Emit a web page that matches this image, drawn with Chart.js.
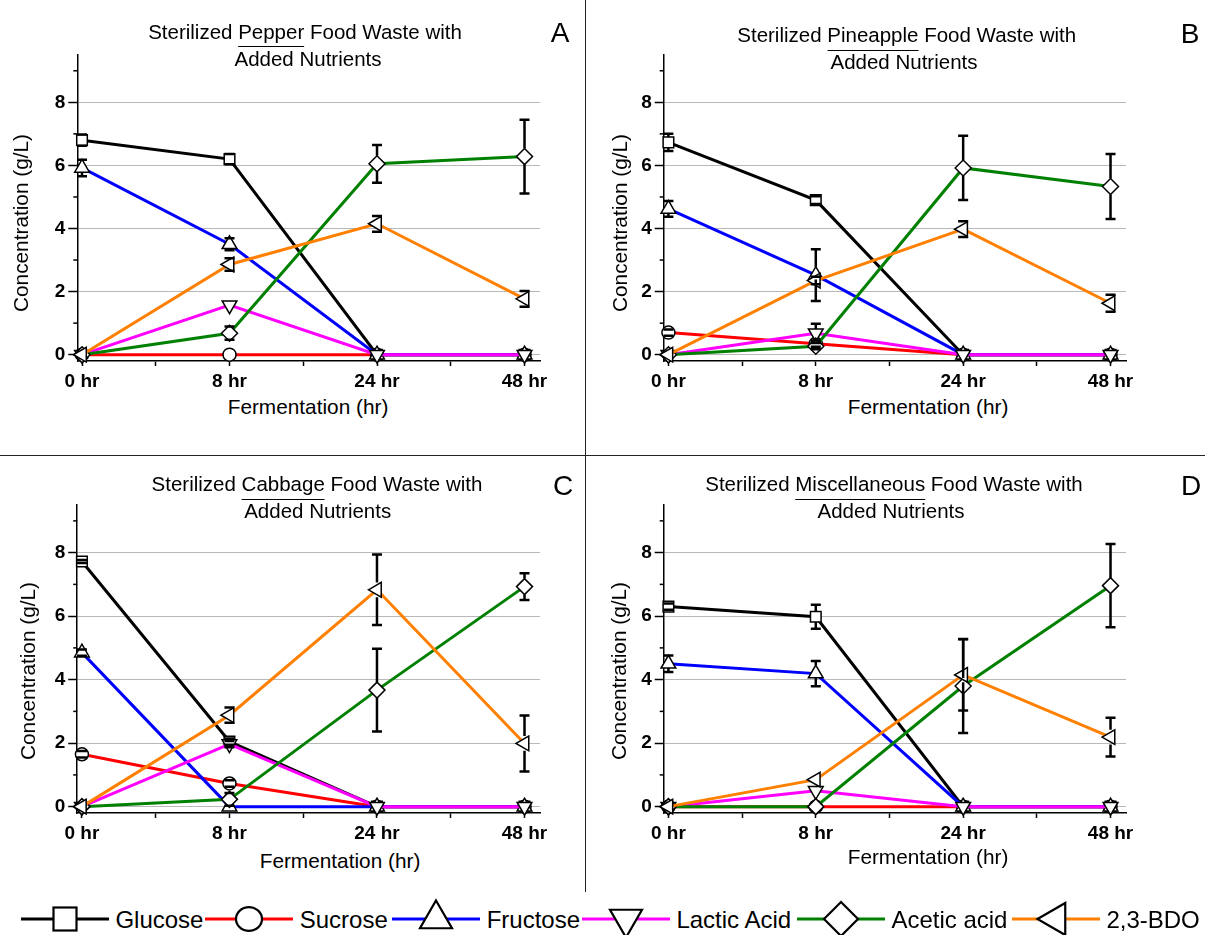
<!DOCTYPE html>
<html lang="en">
<head>
<meta charset="utf-8">
<title>Sterilized Food Waste Fermentation</title>
<script src="https://cdn.jsdelivr.net/npm/chart.js@4.4.1/dist/chart.umd.min.js"></script>
<style>
  html, body { margin:0; padding:0; background:#fff; }
  body { position:relative; width:1205px; height:935px; overflow:hidden; font-family:'Liberation Sans', Arial, sans-serif; color:#000; }
  canvas { position:absolute; }
  .txt { position:absolute; white-space:nowrap; transform:translate(-50%,-50%); }
  .ttl { font-size:20.5px; line-height:20px; }
  .ttl u { text-decoration:none; border-bottom:1.2px solid #000; padding-bottom:3.5px; }
  .letter { font-size:28px; line-height:28px; }
  .axt { font-size:20.8px; line-height:20px; }
  .rot { transform:translate(-50%,-50%) rotate(-90deg); }
  .divider { position:absolute; background:#222; }
  .leg { position:absolute; overflow:visible; }
  .legtxt { position:absolute; font-size:24px; line-height:24px; white-space:nowrap; transform:translateY(-50%); }
</style>
</head>
<body>
<div class="divider" style="left:585px;top:0;width:1px;height:892px"></div>
<div class="divider" style="left:0;top:455px;width:1205px;height:1px"></div>

<canvas id="chartA" width="560" height="360" style="left:0;top:35px"></canvas>
<canvas id="chartB" width="560" height="360" style="left:586px;top:35px"></canvas>
<canvas id="chartC" width="560" height="362" style="left:0;top:485px"></canvas>
<canvas id="chartD" width="560" height="362" style="left:586px;top:485px"></canvas>

<div class="txt ttl" style="left:305px;top:31.7px">Sterilized <u>Pepper</u> Food Waste with</div>
<div class="txt ttl" style="left:308px;top:58.7px">Added Nutrients</div>
<div class="txt ttl" style="left:906.7px;top:35px">Sterilized <u>Pineapple</u> Food Waste with</div>
<div class="txt ttl" style="left:904px;top:62px">Added Nutrients</div>
<div class="txt ttl" style="left:317px;top:484.3px">Sterilized <u>Cabbage</u> Food Waste with</div>
<div class="txt ttl" style="left:317.7px;top:511px">Added Nutrients</div>
<div class="txt ttl" style="left:894px;top:484.3px">Sterilized <u>Miscellaneous</u> Food Waste with</div>
<div class="txt ttl" style="left:891px;top:511px">Added Nutrients</div>

<div class="txt letter" style="left:560px;top:33px">A</div>
<div class="txt letter" style="left:1190px;top:33.5px">B</div>
<div class="txt letter" style="left:563px;top:485.5px">C</div>
<div class="txt letter" style="left:1191px;top:485.5px">D</div>

<div class="txt axt" style="left:308px;top:407px">Fermentation (hr)</div>
<div class="txt axt" style="left:928px;top:407px">Fermentation (hr)</div>
<div class="txt axt" style="left:340px;top:861px">Fermentation (hr)</div>
<div class="txt axt" style="left:928px;top:857px">Fermentation (hr)</div>

<div class="txt axt rot" style="left:21px;top:222.5px">Concentration (g/L)</div>
<div class="txt axt rot" style="left:620px;top:222.5px">Concentration (g/L)</div>
<div class="txt axt rot" style="left:28px;top:670.8px">Concentration (g/L)</div>
<div class="txt axt rot" style="left:619.4px;top:670.8px">Concentration (g/L)</div>

<div id="legend"></div>

<script>
// ---------------- data ----------------
const timeLabels = ['0 hr', '8 hr', '24 hr', '48 hr'];
const seriesNames = ['Glucose', 'Sucrose', 'Fructose', 'Lactic Acid', 'Acetic acid', '2,3-BDO'];

// rows follow seriesNames, columns follow timeLabels (g/L)
const pepperValues = [
  [6.80, 6.20, 0, 0],
  [0, 0, 0, 0],
  [5.92, 3.50, 0, 0],
  [0, 1.57, 0, 0],
  [0, 0.68, 6.05, 6.28],
  [0, 2.86, 4.15, 1.77]
];
const pepperErrors = [
  [0.18, 0.16, 0, 0],
  [0, 0, 0, 0],
  [0.26, 0.19, 0, 0],
  [0, 0, 0, 0],
  [0, 0.21, 0.60, 1.17],
  [0, 0.20, 0.25, 0.25]
];

const pineappleValues = [
  [6.73, 4.90, 0, 0],
  [0.70, 0.35, 0, 0],
  [4.62, 2.52, 0, 0],
  [0, 0.68, 0, 0],
  [0, 0.27, 5.92, 5.33],
  [0, 2.35, 3.98, 1.63]
];
const pineappleErrors = [
  [0.27, 0.12, 0, 0],
  [0.10, 0.10, 0, 0],
  [0.25, 0.82, 0, 0],
  [0, 0.30, 0, 0],
  [0, 0.10, 1.02, 1.03],
  [0, 0.12, 0.25, 0.27]
];

const cabbageValues = [
  [7.72, 2.05, 0, 0],
  [1.65, 0.73, 0, 0],
  [4.85, 0, 0, 0],
  [0, 1.97, 0, 0],
  [0, 0.23, 3.67, 6.93],
  [0, 2.88, 6.83, 1.99]
];
const cabbageErrors = [
  [0.05, 0.10, 0, 0],
  [0.10, 0.10, 0, 0],
  [0.10, 0, 0, 0],
  [0, 0.10, 0, 0],
  [0, 0.20, 1.30, 0.42],
  [0, 0.24, 1.11, 0.88]
];

const miscValues = [
  [6.30, 5.98, 0, 0],
  [0, 0, 0, 0],
  [4.50, 4.19, 0, 0],
  [0, 0.50, 0, 0],
  [0, 0, 3.80, 6.96],
  [0, 0.85, 4.15, 2.19]
];
const miscErrors = [
  [0.10, 0.38, 0, 0],
  [0, 0, 0, 0],
  [0.26, 0.40, 0, 0],
  [0, 0, 0, 0],
  [0, 0, 1.48, 1.31],
  [0, 0, 1.12, 0.61]
];

const yTickValues = [0, 1, 2, 3, 4, 5, 6, 7, 8, 9];
const yLabelValues = [0, 2, 4, 6, 8];
const xTickValues = [0, 0.5, 1, 1.5, 2, 2.5, 3];

// ---------------- styles ----------------
const seriesColors = ['#000000', '#ff0000', '#0000ff', '#ff00ff', '#008000', '#ff8000'];
const pointStyles = ['rect', 'circle', 'triangle', 'triangle', 'rectRot', 'triangle'];
const pointRotations = [0, 0, 0, 180, 0, 270];
const pointRadii = [7.5, 6.5, 8.5, 8.5, 8, 8.5];
// vertical extent of each marker above / below its centre (as fraction of radius)
const markerTop = [0.707, 1, 1, 0.5, 1, 0.866];
const markerBottom = [0.707, 1, 0.5, 1, 1, 0.866];

const FONT = "'Liberation Sans', Arial, sans-serif";
const tickFont = { family: FONT, size: 19, weight: 'bold' };

const errorBarPlugin = {
  id: 'errorBars',
  afterDatasetsDraw(chart) {
    const { ctx } = chart;
    const xs = chart.scales.x, ys = chart.scales.y;
    ctx.save();
    ctx.strokeStyle = '#000';
    ctx.lineWidth = 2.5;
    chart.data.datasets.forEach((ds, di) => {
      const errs = ds.errors || [];
      ds.data.forEach((pt, i) => {
        const e = errs[i];
        if (!e) return;
        const px = xs.getPixelForValue(pt.x);
        const pc = ys.getPixelForValue(pt.y);
        const pt1 = ys.getPixelForValue(pt.y + e);
        const pb = ys.getPixelForValue(pt.y - e);
        const gTop = pc - pointRadii[di] * markerTop[di];
        const gBot = pc + pointRadii[di] * markerBottom[di];
        ctx.beginPath();
        if (pt1 < gTop) { ctx.moveTo(px, pt1); ctx.lineTo(px, gTop); }
        if (pb > gBot) { ctx.moveTo(px, gBot); ctx.lineTo(px, pb); }
        ctx.moveTo(px - 5, pt1); ctx.lineTo(px + 5, pt1);
        ctx.moveTo(px - 5, pb); ctx.lineTo(px + 5, pb);
        ctx.stroke();
      });
    });
    ctx.restore();
  }
};

const minorTickPlugin = {
  id: 'minorTicks',
  afterDraw(chart) {
    const { ctx } = chart;
    const ys = chart.scales.y;
    ctx.save();
    ctx.strokeStyle = '#000';
    ctx.lineWidth = 1.5;
    yTickValues.filter(v => !yLabelValues.includes(v)).forEach(v => {
      const py = ys.getPixelForValue(v);
      ctx.beginPath();
      ctx.moveTo(ys.right, py);
      ctx.lineTo(ys.right - 4, py);
      ctx.stroke();
    });
    ctx.restore();
  }
};

function makeChart(id, values, errors, yAxisWidth) {
  const datasets = seriesNames.map((name, i) => ({
    label: name,
    data: values[i].map((v, k) => ({ x: k, y: v })),
    errors: errors[i],
    borderColor: seriesColors[i],
    backgroundColor: seriesColors[i],
    borderWidth: 3,
    pointStyle: pointStyles[i],
    pointRotation: pointRotations[i],
    pointRadius: pointRadii[i],
    pointHoverRadius: pointRadii[i],
    pointBackgroundColor: '#ffffff',
    pointBorderColor: '#000000',
    pointBorderWidth: 1.5,
    tension: 0,
    clip: false,
    order: seriesNames.length - 1 - i
  }));
  return new Chart(document.getElementById(id), {
    type: 'line',
    data: { datasets },
    options: {
      responsive: false,
      devicePixelRatio: 1,
      animation: false,
      events: [],
      layout: { padding: { left: 0, top: 20, right: 20, bottom: 0 } },
      plugins: { legend: { display: false }, tooltip: { enabled: false }, title: { display: false } },
      scales: {
        x: {
          type: 'linear',
          min: -0.032,
          max: 3.105,
          afterBuildTicks: s => { s.ticks = xTickValues.map(v => ({ value: v })); },
          afterFit: s => { s.height = 34; },
          ticks: {
            autoSkip: false, maxRotation: 0, minRotation: 0, padding: 4, color: '#000', font: tickFont,
            callback: v => Number.isInteger(v) ? timeLabels[v] : ''
          },
          grid: { drawOnChartArea: false, drawTicks: true, tickLength: 5, tickColor: '#000', tickWidth: 1.5 },
          border: { display: true, color: '#000', width: 1.5 }
        },
        y: {
          type: 'linear',
          min: -0.2,
          max: 9.5,
          afterBuildTicks: s => { s.ticks = yTickValues.map(v => ({ value: v })); },
          afterFit: s => { s.width = yAxisWidth; },
          ticks: {
            padding: 3, color: '#000', font: tickFont,
            callback: v => yLabelValues.includes(v) ? String(v) : ''
          },
          grid: {
            color: c => (c.tick && yLabelValues.includes(c.tick.value)) ? '#b8b8b8' : 'rgba(0,0,0,0)',
            lineWidth: 1,
            drawTicks: true,
            tickLength: 9,
            tickWidth: 1.5,
            tickColor: c => (c.tick && yLabelValues.includes(c.tick.value)) ? '#000' : 'rgba(0,0,0,0)'
          },
          border: { display: true, color: '#000', width: 1.5 }
        }
      }
    },
    plugins: [errorBarPlugin, minorTickPlugin]
  });
}

makeChart('chartA', pepperValues, pepperErrors, 77.3);
makeChart('chartB', pineappleValues, pineappleErrors, 77.7);
makeChart('chartC', cabbageValues, cabbageErrors, 77.2);
makeChart('chartD', miscValues, miscErrors, 77.7);

// ---------------- legend ----------------
const legendLeft = [20.7, 205, 392, 581.7, 796.7, 1011.7];
const legendY = 919.3;
const NS = 'http://www.w3.org/2000/svg';
function markerSvg(i, cx, cy) {
  let el;
  if (i === 0) {
    el = document.createElementNS(NS, 'rect');
    el.setAttribute('x', cx - 11.5); el.setAttribute('y', cy - 11.5);
    el.setAttribute('width', 23); el.setAttribute('height', 23);
  } else if (i === 1) {
    el = document.createElementNS(NS, 'ellipse');
    el.setAttribute('cx', cx); el.setAttribute('cy', cy);
    el.setAttribute('rx', 13); el.setAttribute('ry', 11.8);
  } else {
    const r = 18.5, h = 16;
    let pts;
    if (i === 2) pts = [[cx, cy - r], [cx + h, cy + r / 2], [cx - h, cy + r / 2]];
    else if (i === 3) pts = [[cx, cy + r], [cx + h, cy - r / 2], [cx - h, cy - r / 2]];
    else if (i === 4) pts = [[cx, cy - 17], [cx + 17, cy], [cx, cy + 17], [cx - 17, cy]];
    else pts = [[cx - r, cy], [cx + r / 2, cy - h], [cx + r / 2, cy + h]];
    el = document.createElementNS(NS, 'polygon');
    el.setAttribute('points', pts.map(p => p.join(',')).join(' '));
  }
  el.setAttribute('fill', '#fff');
  el.setAttribute('stroke', '#000');
  el.setAttribute('stroke-width', 2.2);
  return el;
}
const legendRoot = document.getElementById('legend');
seriesNames.forEach((name, i) => {
  const svg = document.createElementNS(NS, 'svg');
  svg.setAttribute('class', 'leg');
  svg.setAttribute('width', 88);
  svg.setAttribute('height', 44);
  svg.style.left = legendLeft[i] + 'px';
  svg.style.top = (legendY - 22) + 'px';
  const line = document.createElementNS(NS, 'line');
  line.setAttribute('x1', 0); line.setAttribute('x2', 88);
  line.setAttribute('y1', 22); line.setAttribute('y2', 22);
  line.setAttribute('stroke', seriesColors[i]);
  line.setAttribute('stroke-width', 3);
  svg.appendChild(line);
  svg.appendChild(markerSvg(i, 44, 22));
  legendRoot.appendChild(svg);
  const t = document.createElement('div');
  t.className = 'legtxt';
  t.textContent = name;
  t.style.left = (legendLeft[i] + 88 + 6.7) + 'px';
  t.style.top = (legendY + 0.7) + 'px';
  legendRoot.appendChild(t);
});
</script>
</body>
</html>
